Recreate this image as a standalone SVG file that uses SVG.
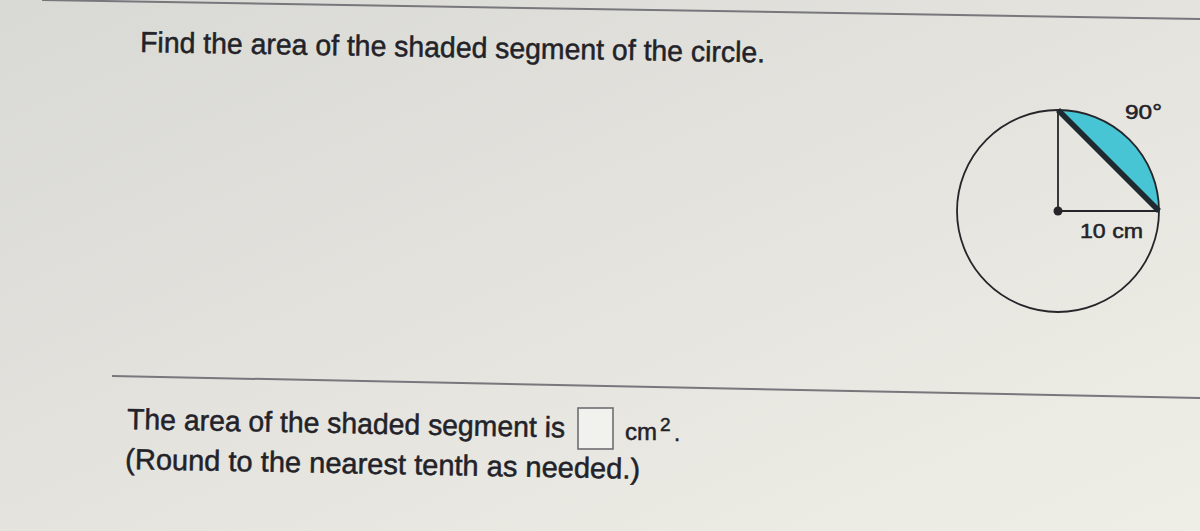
<svg xmlns="http://www.w3.org/2000/svg" width="1200" height="531" viewBox="0 0 1200 531">
  <defs>
    <linearGradient id="bg" x1="0" y1="0" x2="1" y2="1">
      <stop offset="0" stop-color="#d9d9d5"/>
      <stop offset="0.5" stop-color="#e4e3de"/>
      <stop offset="1" stop-color="#efeee6"/>
    </linearGradient>
  </defs>
  <style>
    .t { font-family: "Liberation Sans", Arial, sans-serif; fill: #222228; stroke: #222228; stroke-width: 0.5; }
    .rule { stroke: #77777c; stroke-width: 2; fill: none; }
    .thin { stroke: #26262a; stroke-width: 1.8; fill: none; }
  </style>
  <rect x="0" y="0" width="1200" height="531" fill="url(#bg)"/>
  <line class="rule" x1="42" y1="0" x2="1200" y2="19"/>
  <line class="rule" x1="112" y1="376" x2="1200" y2="398"/>

  <g id="question">
    <text class="t" x="140" y="52" font-size="29" textLength="625" lengthAdjust="spacingAndGlyphs" transform="rotate(0.95 140 52)">Find the area of the shaded segment of the circle.</text>
  </g>

  <g id="circle-figure">
    <path d="M1058,110 A101,101 0 0 1 1159,211 Z" fill="#48c5d4"/>
    <circle cx="1058" cy="211" r="101" class="thin" stroke-width="2.4"/>
    <line class="thin" x1="1058" y1="211" x2="1058" y2="110"/>
    <line class="thin" x1="1058" y1="211" x2="1159" y2="211"/>
    <line x1="1058" y1="110" x2="1159" y2="211" stroke="#1f2a30" stroke-width="5.5"/>
    <circle cx="1058" cy="211" r="4.5" fill="#26262a"/>
    <text class="t" x="1125" y="119" font-size="20" textLength="37" lengthAdjust="spacingAndGlyphs">90°</text>
    <text class="t" x="1080" y="238" font-size="20" textLength="63" lengthAdjust="spacingAndGlyphs">10 cm</text>
  </g>

  <g id="answer">
    <text class="t" x="127" y="429" font-size="29" textLength="438" lengthAdjust="spacingAndGlyphs" transform="rotate(1.1 127 429)">The area of the shaded segment is</text>
    <rect x="578" y="408" width="35" height="41" fill="#f1f1ed" stroke="#6e6e72" stroke-width="1.6"/>
    <text class="t" x="625" y="440" font-size="24" textLength="32" lengthAdjust="spacingAndGlyphs">cm</text>
    <text class="t" x="660" y="431" font-size="19">2</text>
    <text class="t" x="674" y="441" font-size="22">.</text>
    <text class="t" x="125" y="469" font-size="29" textLength="515" lengthAdjust="spacingAndGlyphs" transform="rotate(1.1 125 469)">(Round to the nearest tenth as needed.)</text>
  </g>
</svg>
